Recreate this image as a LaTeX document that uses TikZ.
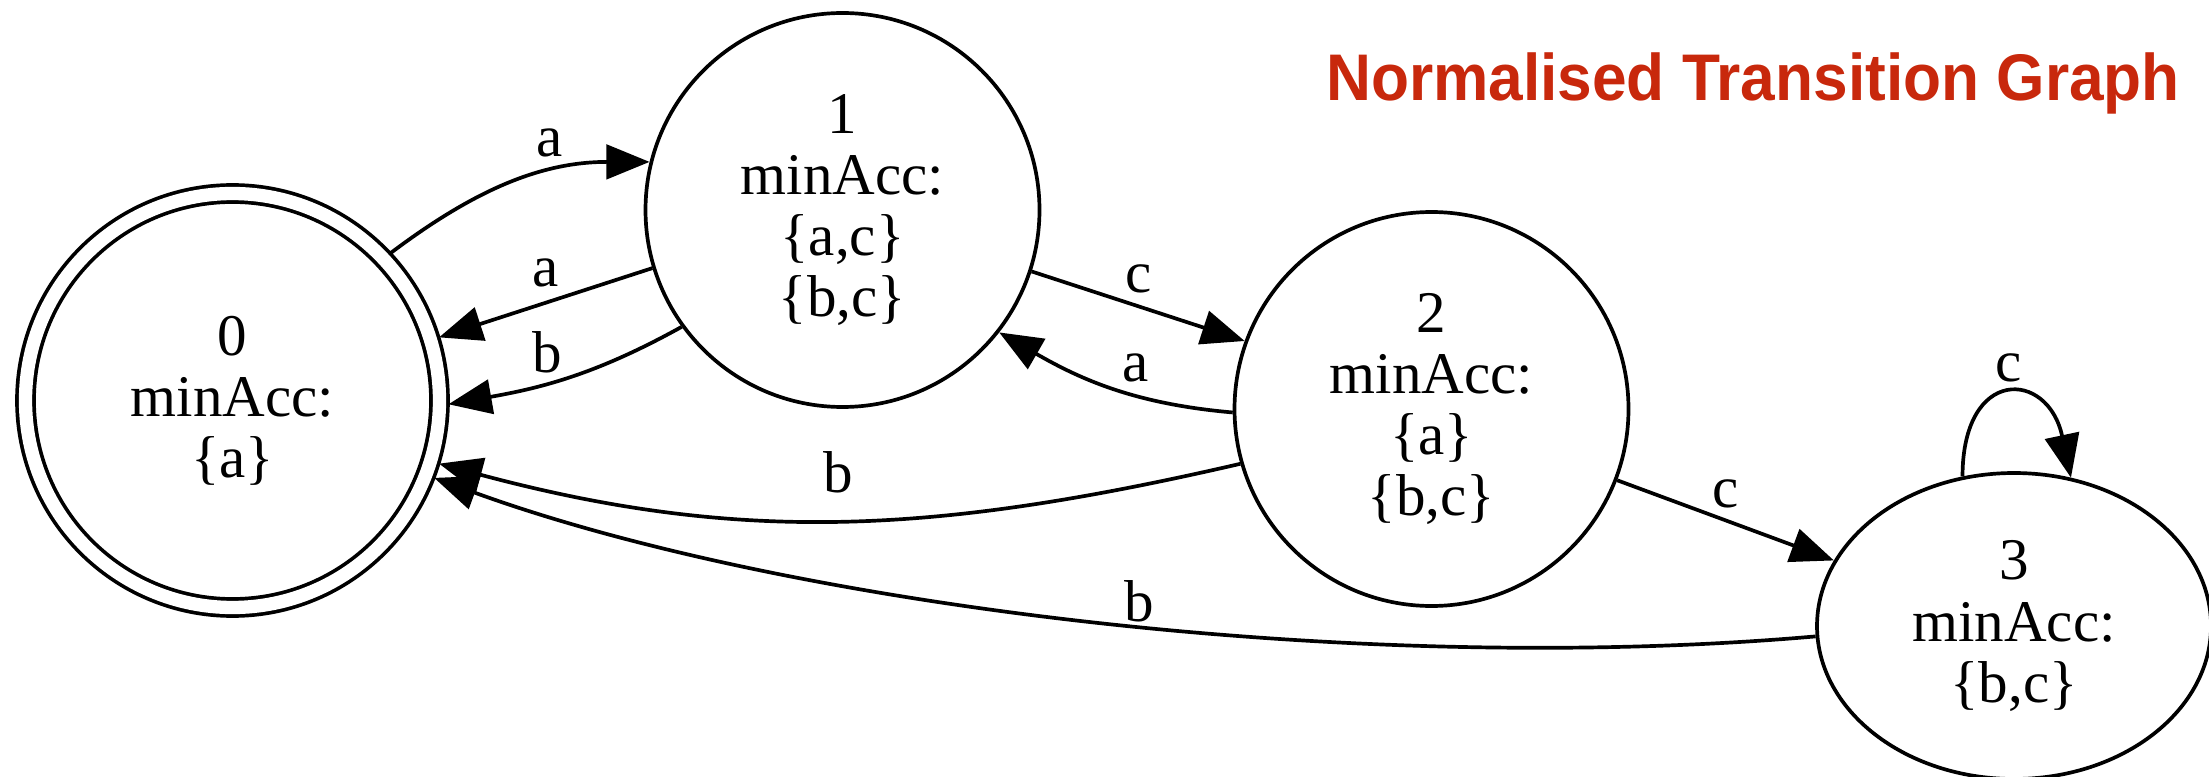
\documentclass[tikz,border=0pt]{standalone}
\usepackage{fontspec}
\setmainfont{Liberation Serif}
\newfontfamily\titlefont{Liberation Sans}
\usepackage{tikz}
\usetikzlibrary{positioning, arrows.meta, shapes.geometric}
\definecolor{TitleRed}{HTML}{C8280C}

\begin{document}
\begin{tikzpicture}[
  font=\fontsize{16.8}{17.4}\selectfont,
  line width=1.05pt,
  state/.style={draw, circle, align=center, inner sep=0pt, minimum size=3.94cm, on grid},
  accept/.style={state, double, double distance=0.133cm, minimum size=4.14cm, outer sep=0.09cm},
  oval/.style={state, ellipse, minimum width=3.94cm, minimum height=3.06cm},
  arr/.style={-{Triangle[length=12.3pt, width=9.8pt]}},
  lbl/.style={inner sep=0pt, anchor=center},
  title/.style={font=\titlefont\bfseries\fontsize{17.7}{20}\selectfont, text=TitleRed, anchor=base, yscale=1.06}
]
\useasboundingbox (0,0) rectangle (22.09,-7.77);
\node[title] (title) at (17.53,-1.01) {Normalised Transition Graph};
\node[accept] (n0) at (2.325,-4.005) {0\\minAcc:\\\{a\}};
\node[state, above right=1.905cm and 6.10cm of n0] (n1) {1\\minAcc:\\\{a,c\}\\\{b,c\}};
\node[state, below right=1.99cm and 5.89cm of n1] (n2) {2\\minAcc:\\\{a\}\\\{b,c\}};
\node[oval, below right=2.17cm and 5.825cm of n2] (n3) {3\\minAcc:\\\{b,c\}};
\draw[arr] (n0.43) to[out=37, in=180] node[lbl, pos=.65, yshift=.29cm] (e01) {a} (n1.166);
\draw[arr] (n1.197) -- node[lbl, pos=.5, yshift=.30cm] (e10a) {a} (n0.17);
\draw[arr] (n1.216) to[out=209, in=10] node[lbl, pos=.6, yshift=.31cm] (e10b) {b} (n0.-1);
\draw[arr] (n1.-18) -- node[lbl, pos=.5, yshift=.27cm] (e12) {c} (n2.160);
\draw[arr] (n2.181) to[out=175, in=-30] node[lbl, pos=.39, yshift=.27cm] (e21) {a} (n1.-38);
\draw[arr] (n2.196) to[out=193, in=-15] node[lbl, pos=.5, yshift=.48cm] (e20) {b} (n0.-17);
\draw[arr] (n2.-21) -- node[lbl, pos=.5, yshift=.26cm] (e23) {c} (n3.160);
\draw[arr] (n3.183) to[out=185, in=340, out looseness=.86, in looseness=.68] node[lbl, pos=.46, yshift=.25cm] (e30) {b} (n0.-21);
\draw[arr] (n3.109) to[out=90, in=102, looseness=2.6] node[lbl, pos=.5, yshift=.27cm] (e33) {c} (n3.69);
\end{tikzpicture}
\end{document}
